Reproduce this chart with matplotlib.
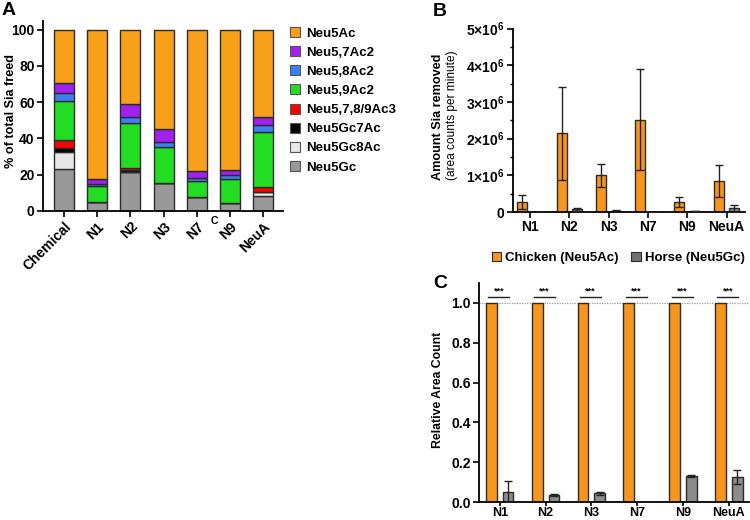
import matplotlib
matplotlib.use("Agg")
import matplotlib.pyplot as plt
import numpy as np
from matplotlib.patches import Patch
from matplotlib.ticker import MultipleLocator

plt.rcParams['font.family'] = ['Liberation Sans', 'DejaVu Sans']
plt.rcParams['mathtext.fontset'] = 'custom'
plt.rcParams['mathtext.bf'] = 'Liberation Sans:bold'
plt.rcParams['mathtext.rm'] = 'Liberation Sans'

# ---------------- data ----------------
cats_A = ['Chemical', 'N1', 'N2', 'N3', 'N7', 'N9', 'NeuA']
neu5gc    = [23.4, 5.2, 21.7, 15.3, 7.6, 4.2, 8.5]
neu5gc8ac = [9.2, 0, 0, 0, 0, 0, 1.8]
neu5gc7ac = [2.0, 0, 0.8, 0, 0, 0, 0]
neu5ac3   = [4.4, 0, 1.3, 0, 0, 0, 3.1]
neu59ac2  = [21.8, 8.6, 24.6, 19.9, 8.8, 13.3, 30.2]
neu58ac2  = [4.2, 1.1, 3.5, 2.9, 1.6, 2.2, 3.7]
neu57ac2  = [5.5, 2.6, 7.0, 7.2, 4.1, 2.8, 4.3]
neu5ac    = [29.5, 82.5, 41.1, 54.3, 77.9, 77.5, 48.0]
labels_A = ['Neu5Gc', 'Neu5Gc8Ac', 'Neu5Gc7Ac', 'Neu5,7,8/9Ac3',
            'Neu5,9Ac2', 'Neu5,8Ac2', 'Neu5,7Ac2', 'Neu5Ac']
colors_A = ['#999999', '#E8E8E8', '#000000', '#FF0000',
            '#22DD22', '#3D80F5', '#A020F0', '#F9A01B']

cats_B = ['N1', 'N2', 'N3', 'N7', 'N9', 'NeuA']
chicken_amt = [0.27e6, 2.14e6, 1.00e6, 2.52e6, 0.27e6, 0.84e6]
chicken_err = [0.20e6, 1.27e6, 0.31e6, 1.37e6, 0.14e6, 0.44e6]
horse_amt = [0.005e6, 0.07e6, 0.03e6, 0.005e6, 0.02e6, 0.10e6]
horse_err = [0.005e6, 0.05e6, 0.02e6, 0.003e6, 0.015e6, 0.09e6]

chicken_rel = [1.0, 1.0, 1.0, 1.0, 1.0, 1.0]
horse_rel = [0.053, 0.038, 0.045, 0.003, 0.132, 0.127]
horse_rel_err = [0.054, 0.005, 0.008, 0.001, 0.006, 0.037]
sig_labels = ['***'] * 6

orange = '#F7961C'
grey = '#858585'
edge = '#2b2b2b'
TFS = 10     # tick labels
LFS = 9.5    # legends
YFS = 9.1    # axis labels

fig = plt.figure(figsize=(7.5, 5.2), dpi=100)

def px_axes(l, r, top, bot):
    W, H = 750.0, 520.0
    return fig.add_axes([l / W, 1 - bot / H, (r - l) / W, (bot - top) / H])

def style(ax):
    for s in ['top', 'right']:
        ax.spines[s].set_visible(False)
    for s in ['left', 'bottom']:
        ax.spines[s].set_linewidth(1.3)
    ax.tick_params(length=4, width=1.2, labelsize=TFS, pad=2)
    for t in ax.get_xticklabels() + ax.get_yticklabels():
        t.set_fontweight('bold')

# ---------------- Panel A ----------------
axA = px_axes(43, 283, 20.5, 211)
x = np.arange(len(cats_A))
series = [neu5gc, neu5gc8ac, neu5gc7ac, neu5ac3, neu59ac2, neu58ac2, neu57ac2, neu5ac]
bottom = np.zeros(len(cats_A))
for vals, col, lab in zip(series, colors_A, labels_A):
    v = np.array(vals, dtype=float)
    axA.bar(x, v, 0.6, bottom=bottom, color=col, edgecolor=edge, linewidth=1, label=lab)
    bottom += v
axA.set_xlim(-0.633, 6.6)
axA.set_ylim(0, 105)
axA.set_yticks([0, 20, 40, 60, 80, 100])
axA.set_xticks(x)
axA.set_xticklabels(cats_A, rotation=45, ha='right', va='top', rotation_mode='anchor')
style(axA)
fig.text(11.5 / 750, 1 - 111 / 520, '% of total Sia freed', rotation=90, fontsize=YFS,
         fontweight='bold', ha='center', va='center')
handles = [Patch(facecolor=c, edgecolor='#555555', linewidth=0.8, label=l)
           for c, l in zip(colors_A[::-1], labels_A[::-1])]
leg = fig.legend(handles=handles, loc='upper left', bbox_to_anchor=(290 / 750, 1 - 27 / 520),
                 frameon=False, fontsize=LFS, handlelength=0.78, handleheight=0.78,
                 handletextpad=0.45, labelspacing=0.5, borderaxespad=0, borderpad=0)
for t in leg.get_texts():
    t.set_fontweight('bold')
fig.text(214.5 / 750, 1 - 220.5 / 520, 'C', fontsize=7.5, fontweight='bold', ha='center', va='center')

# ---------------- Panel B ----------------
axB = px_axes(513, 745, 28.5, 212)
xb = np.arange(len(cats_B))
off, w = 0.196, 0.254
eb = dict(ecolor='#222222', elinewidth=1, capsize=3, capthick=1, zorder=3)
axB.bar(xb - off, chicken_amt, w, color=orange, edgecolor=edge, linewidth=1)
axB.errorbar(xb - off, chicken_amt, yerr=chicken_err, fmt='none', **eb)
axB.bar(xb + off, horse_amt, w, color=grey, edgecolor=edge, linewidth=1)
axB.errorbar(xb + off, horse_amt, yerr=horse_err, fmt='none', **eb)
axB.set_xlim(-0.43, 5.47)
axB.set_ylim(0, 5e6)
yt = [0, 1e6, 2e6, 3e6, 4e6, 5e6]
axB.set_yticks(yt)
axB.set_yticklabels(['0'] + [r'$\mathbf{%d{\times}10^{6}}$' % int(v / 1e6) for v in yt[1:]])
axB.yaxis.set_minor_locator(MultipleLocator(0.5e6))
axB.tick_params(axis='y', which='minor', length=2.5, width=1)
axB.set_xticks(xb)
axB.set_xticklabels(cats_B)
style(axB)
fig.text(438 / 750, 1 - 117 / 520, 'Amount Sia removed', rotation=90, fontsize=YFS,
         fontweight='bold', ha='center', va='center')
fig.text(452 / 750, 1 - 115 / 520, '(area counts per minute)', rotation=90, fontsize=8.6,
         ha='center', va='center')
legB = fig.legend(handles=[Patch(facecolor=orange, edgecolor=edge, linewidth=0.8, label='Chicken (Neu5Ac)'),
                           Patch(facecolor='#707070', edgecolor=edge, linewidth=0.8, label='Horse (Neu5Gc)')],
                  loc='center', bbox_to_anchor=(618 / 750, 1 - 258 / 520), ncol=2, frameon=False,
                  fontsize=LFS, handlelength=0.7, handleheight=0.7, handletextpad=0.3,
                  columnspacing=1.0, borderaxespad=0, borderpad=0)
for t in legB.get_texts():
    t.set_fontweight('bold')

# ---------------- Panel C ----------------
axC = px_axes(479.3, 749, 282.7, 502.3)
xc = np.arange(len(cats_B))
offc, wc = 0.182, 0.233
axC.axhline(1.0, color='#999999', linestyle=(0, (1, 1)), linewidth=0.9, zorder=0)
axC.bar(xc - offc, chicken_rel, wc, color=orange, edgecolor=edge, linewidth=1)
axC.bar(xc + offc, horse_rel, wc, color='#8C8C8C', edgecolor=edge, linewidth=1)
axC.errorbar(xc + offc, horse_rel, yerr=horse_rel_err, fmt='none', **eb)
for xi, s in zip(xc, sig_labels):
    axC.plot([xi - 0.25, xi + 0.21], [1.03, 1.03], color='#222222', linewidth=1)
    axC.text(xi - 0.02, 1.036, s, fontsize=6.5, fontweight='bold', ha='center', va='bottom')
axC.set_xlim(-0.445, 5.44)
axC.set_ylim(0, 1.1)
axC.set_yticks([0, 0.2, 0.4, 0.6, 0.8, 1.0])
axC.set_yticklabels(['0.0', '0.2', '0.4', '0.6', '0.8', '1.0'])
axC.set_xticks(xc)
axC.set_xticklabels(cats_B)
style(axC)
axC.tick_params(axis='x', length=3, pad=0.5, labelsize=9)
fig.text(438 / 750, 1 - 390 / 520, 'Relative Area Count', rotation=90, fontsize=8.8,
         fontweight='bold', ha='center', va='center')

# panel letters
for lab, (px, py) in {'A': (2, 2), 'B': (433, 3), 'C': (433, 275)}.items():
    fig.text(px / 750, 1 - py / 520, lab, fontsize=14, fontweight='bold', ha='left', va='top')

fig.savefig('out.png', dpi=100)
